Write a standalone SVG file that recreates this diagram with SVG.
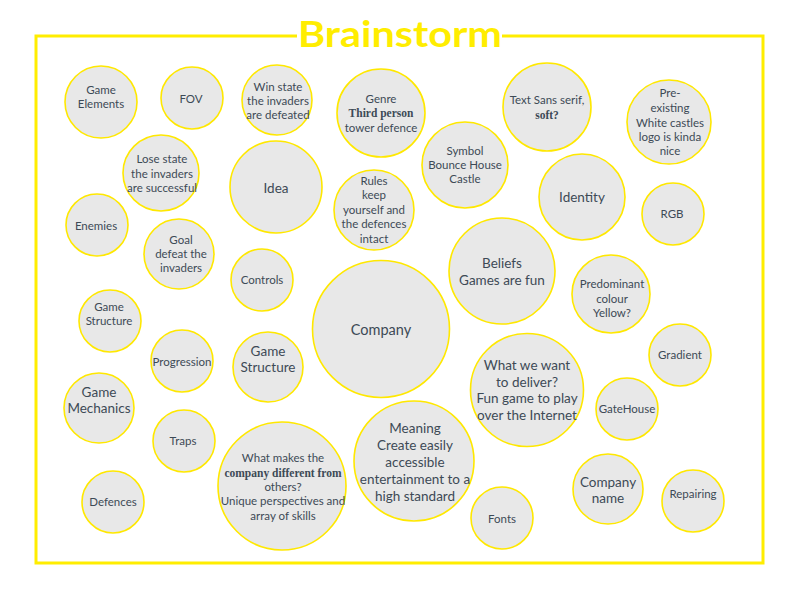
<svg xmlns="http://www.w3.org/2000/svg" width="800" height="600" viewBox="0 0 800 600">
<style>
.c{fill:#e8e8e8;stroke:#ffe800;stroke-width:1.6}
text{font-family:Lato,"Liberation Sans",sans-serif;fill:#3d4a56;text-anchor:middle}
.s{font-size:11.5px}
.m{font-size:13.5px}
.l{font-size:14.5px}
.b{font-family:"Liberation Serif",serif;font-weight:bold}
</style>
<rect width="800" height="600" fill="#fff"/>
<rect x="36" y="36" width="727" height="527" fill="none" stroke="#ffed00" stroke-width="3"/>
<rect x="297" y="28" width="205" height="16" fill="#fff"/>
<text x="400" y="47" style="font-family:Lato,'Liberation Sans',sans-serif;font-weight:bold;font-size:36px;fill:#ffed00" textLength="204" lengthAdjust="spacingAndGlyphs">Brainstorm</text>
<g id="connectors"/>
<g id="game-elements"><circle class="c" cx="101" cy="102" r="36"/><text class="s" x="101" y="94">Game</text><text class="s" x="101" y="108">Elements</text></g>
<g id="fov"><circle class="c" cx="192" cy="98" r="31"/><text class="s" x="191" y="103">FOV</text></g>
<g id="win-state"><circle class="c" cx="277" cy="100" r="35"/><text class="s" x="278" y="91">Win state</text><text class="s" x="278" y="105">the invaders</text><text class="s" x="278" y="119">are defeated</text></g>
<g id="lose-state"><circle class="c" cx="161" cy="173" r="38"/><text class="s" x="162" y="163">Lose state</text><text class="s" x="162" y="178">the invaders</text><text class="s" x="162" y="192">are successful</text></g>
<g id="idea"><circle class="c" cx="276" cy="187" r="46"/><text class="m" x="276" y="193">Idea</text></g>
<g id="genre"><circle class="c" cx="381" cy="113" r="44"/><text class="s" x="381" y="103">Genre</text><text class="s b" x="381" y="117">Third person</text><text class="s" x="381" y="132">tower defence</text></g>
<g id="text-font"><circle class="c" cx="547" cy="107" r="44"/><text class="s" x="547" y="104">Text Sans serif,</text><text class="s b" x="547" y="119">soft?</text></g>
<g id="symbol"><circle class="c" cx="465" cy="165" r="43"/><text class="s" x="465" y="155">Symbol</text><text class="s" x="465" y="169">Bounce House</text><text class="s" x="465" y="183">Castle</text></g>
<g id="identity"><circle class="c" cx="582" cy="197" r="43"/><text class="m" x="582" y="202">Identity</text></g>
<g id="pre-existing"><circle class="c" cx="669" cy="122" r="42"/><text class="s" x="670" y="97">Pre-</text><text class="s" x="670" y="112">existing</text><text class="s" x="670" y="127">White castles</text><text class="s" x="670" y="141">logo is kinda</text><text class="s" x="670" y="155">nice</text></g>
<g id="rgb"><circle class="c" cx="673" cy="214" r="31"/><text class="s" x="672" y="218">RGB</text></g>
<g id="enemies"><circle class="c" cx="97" cy="225" r="31"/><text class="s" x="96" y="230">Enemies</text></g>
<g id="goal"><circle class="c" cx="179" cy="254" r="35"/><text class="s" x="181" y="244">Goal</text><text class="s" x="181" y="258">defeat the</text><text class="s" x="181" y="272">invaders</text></g>
<g id="controls"><circle class="c" cx="262" cy="280" r="31"/><text class="s" x="262" y="284">Controls</text></g>
<g id="game-structure-small"><circle class="c" cx="110" cy="321" r="31"/><text class="s" x="109" y="311">Game</text><text class="s" x="109" y="325">Structure</text></g>
<g id="progression"><circle class="c" cx="182" cy="361" r="31"/><text class="s" x="182" y="366">Progression</text></g>
<g id="game-structure"><circle class="c" cx="268" cy="367" r="35"/><text class="m" x="268" y="356">Game</text><text class="m" x="268" y="372">Structure</text></g>
<g id="rules"><circle class="c" cx="374" cy="210" r="40"/><text class="s" x="374" y="185">Rules</text><text class="s" x="374" y="199">keep</text><text class="s" x="374" y="214">yourself and</text><text class="s" x="374" y="228">the defences</text><text class="s" x="374" y="243">intact</text></g>
<g id="company"><circle class="c" cx="381" cy="329" r="68.5"/><text class="l" x="381" y="335">Company</text></g>
<g id="beliefs"><circle class="c" cx="502" cy="271" r="53"/><text class="m" x="502" y="268">Beliefs</text><text class="m" x="502" y="285">Games are fun</text></g>
<g id="predominant"><circle class="c" cx="611" cy="294" r="39"/><text class="s" x="612" y="288">Predominant</text><text class="s" x="612" y="303">colour</text><text class="s" x="612" y="317">Yellow?</text></g>
<g id="what-we-want"><circle class="c" cx="527" cy="390" r="56.5"/><text class="m" x="527" y="370">What we want</text><text class="m" x="527" y="387">to deliver?</text><text class="m" x="527" y="403">Fun game to play</text><text class="m" x="527" y="420">over the Internet</text></g>
<g id="gradient"><circle class="c" cx="680" cy="355" r="31"/><text class="s" x="680" y="359">Gradient</text></g>
<g id="gatehouse"><circle class="c" cx="627" cy="409" r="31"/><text class="s" x="627" y="413">GateHouse</text></g>
<g id="company-name"><circle class="c" cx="608" cy="489" r="35"/><text class="m" x="608" y="487">Company</text><text class="m" x="608" y="503">name</text></g>
<g id="repairing"><circle class="c" cx="693" cy="501" r="31"/><text class="s" x="693" y="498">Repairing</text></g>
<g id="fonts"><circle class="c" cx="502" cy="518" r="31"/><text class="s" x="502" y="523">Fonts</text></g>
<g id="game-mechanics"><circle class="c" cx="99" cy="408" r="35"/><text class="m" x="99" y="397">Game</text><text class="m" x="99" y="413">Mechanics</text></g>
<g id="traps"><circle class="c" cx="184" cy="441" r="31"/><text class="s" x="183" y="445">Traps</text></g>
<g id="defences"><circle class="c" cx="113" cy="502" r="31"/><text class="s" x="113" y="506">Defences</text></g>
<g id="what-makes"><circle class="c" cx="282" cy="486" r="64"/><text class="s" x="283" y="462">What makes the</text><text class="s b" x="283" y="477">company different from</text><text class="s" x="283" y="491">others?</text><text class="s" x="283" y="505">Unique perspectives and</text><text class="s" x="283" y="520">array of skills</text></g>
<g id="meaning"><circle class="c" cx="414" cy="461" r="60"/><text class="m" x="415" y="433">Meaning</text><text class="m" x="415" y="450">Create easily</text><text class="m" x="415" y="467">accessible</text><text class="m" x="415" y="484">entertainment to a</text><text class="m" x="415" y="501">high standard</text></g>
</svg>
